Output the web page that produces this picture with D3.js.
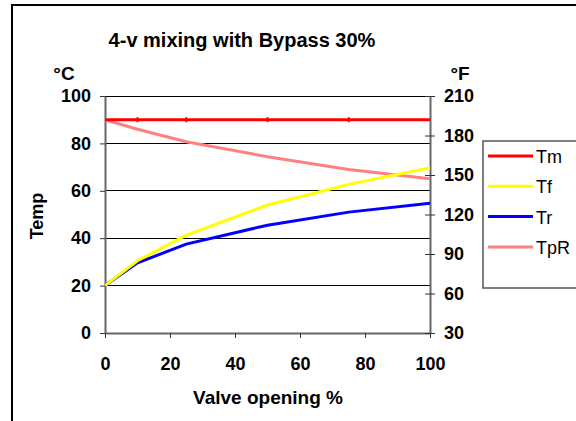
<!DOCTYPE html>
<html>
<head>
<meta charset="utf-8">
<script src="https://cdn.jsdelivr.net/npm/d3@7"></script>
<style>
  body { margin: 0; background: #fff; }
  svg { display: block; font-family: "Liberation Sans", Arial, sans-serif; }
</style>
</head>
<body>
<div id="chart"></div>
<script>
// valve opening (%)
const opening = [0, 10, 25, 50, 75, 100];
const tm = [90, 90, 90, 90, 90, 90];
const tf = [20, 30.5, 41.3, 54, 62.7, 69.7];
const tr = [20, 29.6, 37.5, 45.5, 51, 54.7];
const tpr = [90, 86, 80.7, 74.4, 69, 65.1];

const seriesNames = ['Tm', 'Tf', 'Tr', 'TpR'];
const seriesColors = ['#ff0000', '#ffff00', '#0000ff', '#ff8080'];
const seriesValues = [tm, tf, tr, tpr];

const xTicks = [0, 20, 40, 60, 80, 100];
const yTicks = [0, 20, 40, 60, 80, 100];
const fTicks = [30, 60, 90, 120, 150, 180, 210];

const W = 576, H = 421;
const plot = { left: 105, right: 430, top: 96, bottom: 333 };

const svg = d3.select('#chart').append('svg')
  .attr('width', W)
  .attr('height', H);

// outer frame
svg.append('rect')
  .attr('x', 12).attr('y', 5)
  .attr('width', W).attr('height', H)
  .attr('fill', 'none')
  .attr('stroke', '#000')
  .attr('stroke-width', 2);

const x = d3.scaleLinear().domain([0, 100]).range([plot.left, plot.right]);
const y = d3.scaleLinear().domain([0, 100]).range([plot.bottom, plot.top]);
const yF = d3.scaleLinear().domain([30, 210]).range([plot.bottom, plot.top]);

// gridlines
svg.append('g')
  .selectAll('line')
  .data(yTicks.filter(d => d > 0))
  .join('line')
  .attr('x1', plot.left).attr('x2', plot.right)
  .attr('y1', d => y(d)).attr('y2', d => y(d))
  .attr('stroke', '#000')
  .attr('stroke-width', 1)
  .attr('shape-rendering', 'crispEdges');

const axisStyle = g => {
  g.select('.domain').attr('stroke', '#666').attr('stroke-width', 2);
  g.selectAll('.tick line').attr('stroke', '#333');
  g.selectAll('.tick text')
    .attr('fill', '#000')
    .style('font-size', '18px')
    .style('font-weight', 'bold')
    .style('font-family', '"Liberation Sans", Arial, sans-serif');
};

svg.append('g')
  .attr('transform', `translate(0,${plot.bottom})`)
  .call(d3.axisBottom(x).tickValues(xTicks).tickSize(5).tickSizeOuter(0).tickPadding(19))
  .call(axisStyle);

svg.append('g')
  .attr('transform', `translate(${plot.left},0)`)
  .call(d3.axisLeft(y).tickValues(yTicks).tickSize(5).tickSizeOuter(0).tickPadding(9))
  .call(axisStyle);

const rightAxis = svg.append('g')
  .attr('transform', `translate(${plot.right},0)`)
  .call(d3.axisRight(yF).tickValues(fTicks).tickSize(5).tickSizeOuter(0).tickPadding(9))
  .call(axisStyle);
// cross ticks on the right axis
rightAxis.selectAll('.tick line').attr('x1', -5);

// lines
const line = d3.line()
  .x((d, i) => x(opening[i]))
  .y(d => y(d));

svg.append('g')
  .selectAll('path')
  .data(seriesValues.map((v, i) => ({ v, c: seriesColors[i] })).reverse())
  .join('path')
  .attr('d', d => line(d.v))
  .attr('fill', 'none')
  .attr('stroke', d => d.c)
  .attr('stroke-width', 3);

// small markers on Tm
svg.append('g')
  .selectAll('line')
  .data(opening.slice(1, -1))
  .join('line')
  .attr('x1', d => x(d)).attr('x2', d => x(d))
  .attr('y1', y(90) - 2.5).attr('y2', y(90) + 2.5)
  .attr('stroke', '#ff0000')
  .attr('stroke-width', 2);

// title and labels
svg.append('text')
  .attr('x', 242).attr('y', 47)
  .attr('text-anchor', 'middle')
  .style('font-size', '20px').style('font-weight', 'bold')
  .text('4-v mixing with Bypass 30%');

svg.append('text')
  .attr('x', 64).attr('y', 80)
  .attr('text-anchor', 'middle')
  .style('font-size', '19px').style('font-weight', 'bold')
  .text('°C');

svg.append('text')
  .attr('x', 460).attr('y', 80)
  .attr('text-anchor', 'middle')
  .style('font-size', '19px').style('font-weight', 'bold')
  .text('°F');

svg.append('text')
  .attr('transform', 'translate(43,216) rotate(-90)')
  .attr('text-anchor', 'middle')
  .style('font-size', '18px').style('font-weight', 'bold')
  .text('Temp');

svg.append('text')
  .attr('x', 268).attr('y', 404)
  .attr('text-anchor', 'middle')
  .style('font-size', '19px').style('font-weight', 'bold')
  .text('Valve opening %');

// legend
const legend = svg.append('g');
legend.append('rect')
  .attr('x', 483).attr('y', 141)
  .attr('width', 120).attr('height', 147)
  .attr('fill', '#fff')
  .attr('stroke', '#555')
  .attr('stroke-width', 1.5);

const item = legend.selectAll('g.item')
  .data(seriesNames)
  .join('g')
  .attr('class', 'item')
  .attr('transform', (d, i) => `translate(0,${156 + i * 30.3})`);

item.append('line')
  .attr('x1', 488).attr('x2', 533)
  .attr('stroke', (d, i) => seriesColors[i])
  .attr('stroke-width', 3);

item.append('text')
  .attr('x', 536).attr('y', 7)
  .style('font-size', '18px')
  .text(d => d);
</script>
</body>
</html>
